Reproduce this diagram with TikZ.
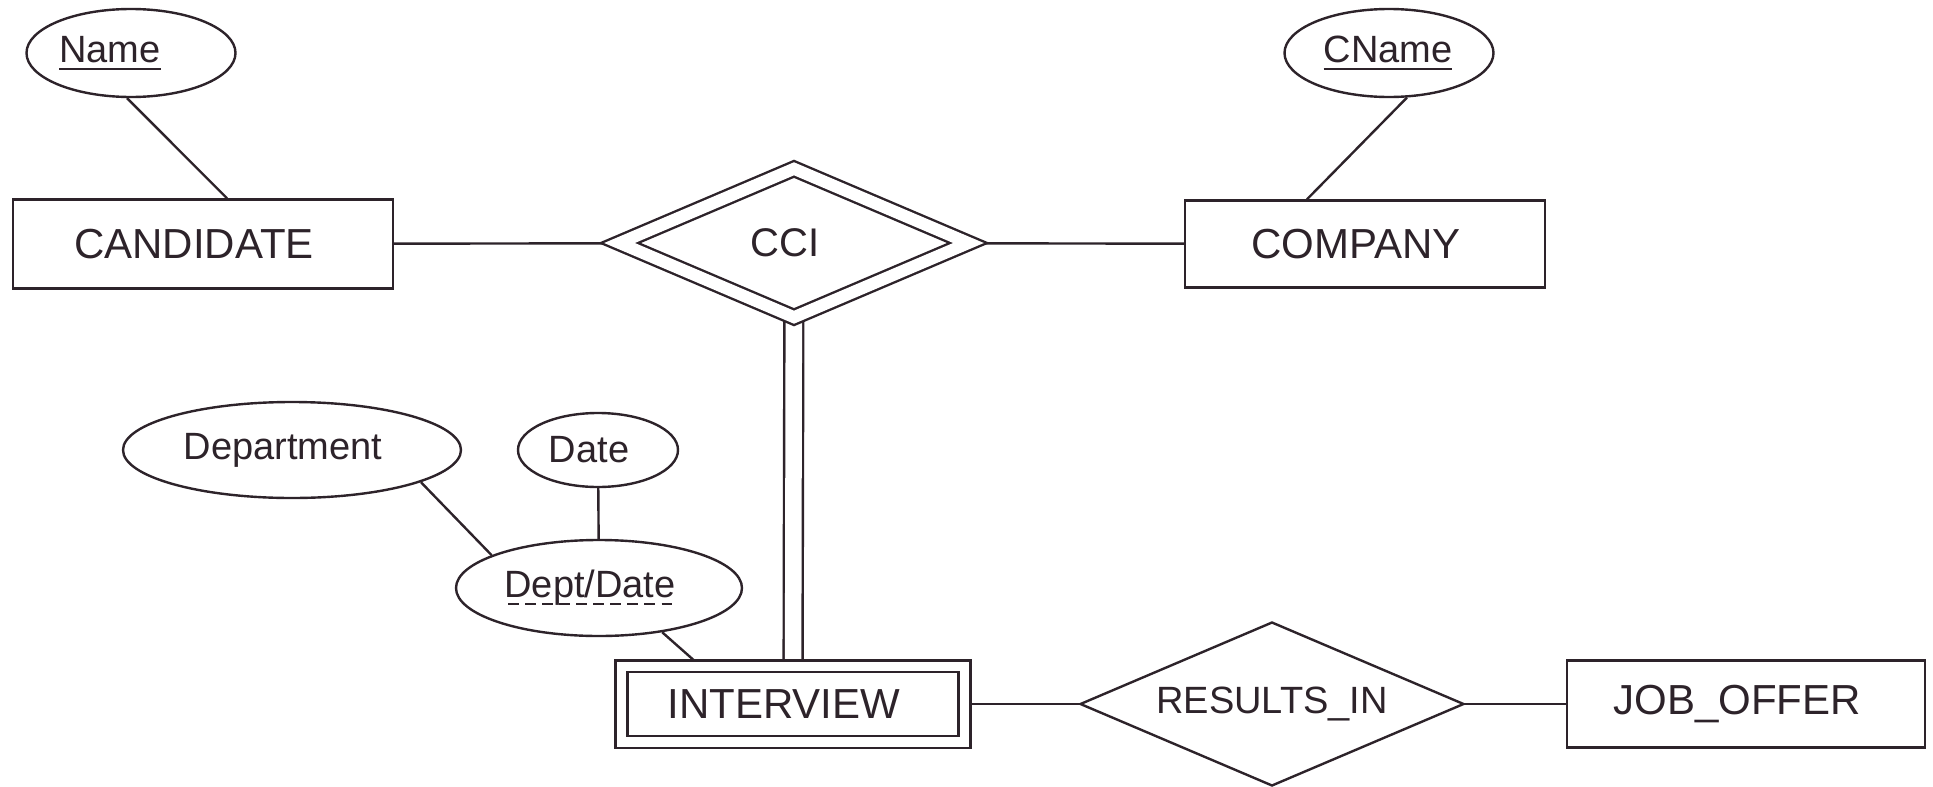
\documentclass[tikz,border=0pt]{standalone}
\usepackage{fontspec}
\setmainfont{Liberation Sans}
\usetikzlibrary{shapes.geometric,backgrounds}
\definecolor{ink}{RGB}{45,35,42}
% key and partial key underlines
\newcommand{\keyul}[1]{\setbox0\hbox{#1}\rlap{\copy0}\vrule width\wd0 height -2.5pt depth 3.5pt}
\newcommand{\partkey}[1]{\setbox0\hbox{#1}\rlap{\copy0}\hbox to\wd0{\xleaders\hbox{\kern1.5pt\vrule width 5.2pt height -2.5pt depth 3.5pt\kern1.5pt}\hfil}}
\begin{document}
\begin{tikzpicture}[x=0.5pt, y=-0.5pt, line width=1.2pt, color=ink,
  every on background layer/.style={line width=1.2pt, color=ink},
  lefttext/.style={execute at begin node={\kern-#1}},
  entity/.style={rectangle, draw, fill=white, inner sep=0pt, lefttext=9pt, font=\fontsize{21}{24}\selectfont},
  weak/.style={entity, double, double distance=4.75pt},
  attr/.style={ellipse, draw, fill=white, inner sep=0pt, lefttext=9pt, font=\fontsize{19}{22}\selectfont},
  rel/.style={diamond, aspect=2.33, draw, fill=white, inner sep=0pt, font=\fontsize{19}{22}\selectfont},
  idrel/.style={rel, double, double distance=6pt, lefttext=9pt}]
\useasboundingbox (0,0) rectangle (1933,787);
\node[attr, minimum width=104.5pt, minimum height=44pt, lefttext=12pt] (name) at (131,53){\keyul{Name}};
\node[attr, minimum width=104.5pt, minimum height=44pt, lefttext=-8pt] (cname) at (1389,53){\keyul{CName}};
\node[entity, minimum width=190pt, minimum height=44.5pt] (candidate) at (203,244){CANDIDATE};
\node[idrel, minimum width=175pt, minimum height=74.7pt, font=\fontsize{20}{24}\selectfont] (cci) at (794,243){CCI};
\node[entity, minimum width=180pt, minimum height=43.5pt] (company) at (1365,244){COMPANY};
\node[attr, minimum width=169pt, minimum height=48pt] (department) at (292,450){Department};
\node[attr, minimum width=80pt, minimum height=37pt] (date) at (598,450){Date};
\node[attr, minimum width=143pt, minimum height=48pt] (deptdate) at (599,588){\partkey{Dept/Date}};
\node[weak, minimum width=171.5pt, minimum height=37.75pt] (interview) at (793,704){INTERVIEW};
\node[rel, minimum width=192pt, minimum height=82pt] (resultsin) at (1272,704){RESULTS\_IN};
\node[entity, minimum width=179pt, minimum height=43.5pt] (joboffer) at (1746,704){JOB\_OFFER};
\begin{scope}[on background layer]
\draw[](name.-95) -- ([xshift=12pt]candidate.north);
\draw[](cname.-68) -- ([xshift=-29pt]company.north);
\draw[](candidate) -- (cci);
\draw[](cci) -- (company);
\draw[double, double distance=8.25pt](cci) -- (interview);
\draw[](department.-14.5) -- (deptdate.163);
\draw[](date) -- (deptdate);
\draw[](deptdate.-35) -- ([xshift=39.5pt]interview.north west);
\draw[](interview) -- (resultsin);
\draw[](resultsin) -- (joboffer);
\end{scope}
\end{tikzpicture}
\end{document}
